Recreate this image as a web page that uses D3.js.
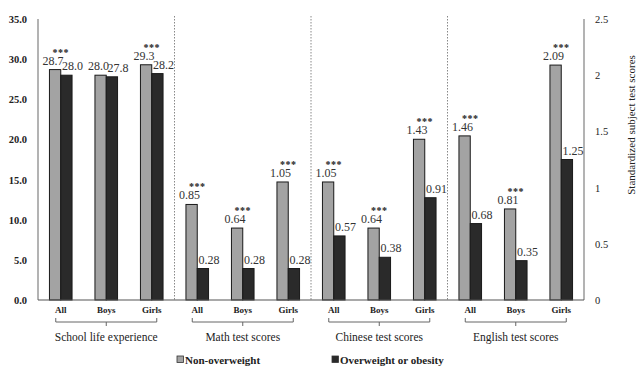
<!DOCTYPE html>
<html>
<head>
<meta charset="utf-8">
<script src="https://cdn.jsdelivr.net/npm/d3@7"></script>
<style>
  body { margin: 0; background: #fff; }
  text { font-family: "Liberation Serif", "DejaVu Serif", serif; }
</style>
</head>
<body>
<script>
// data
var groups = ["School life experience", "Math test scores", "Chinese test scores", "English test scores"];
var subgroups = ["All", "Boys", "Girls"];
var nonOverweight = [28.7, 28.0, 29.3, 0.85, 0.64, 1.05, 1.05, 0.64, 1.43, 1.46, 0.81, 2.09];
var overweight = [28.0, 27.8, 28.2, 0.28, 0.28, 0.28, 0.57, 0.38, 0.91, 0.68, 0.35, 1.25];
var stars = ["***", "", "***", "***", "***", "***", "***", "***", "***", "***", "***", "***"];
var leftTicks = [0, 5, 10, 15, 20, 25, 30, 35];
var rightTicks = [0, 0.5, 1, 1.5, 2, 2.5];
var seriesNames = ["Non-overweight", "Overweight or obesity"];
var seriesColors = ["#a3a3a3", "#2a2a2a"];

var W = 640, H = 371;
var plotL = 38, plotR = 584, plotT = 19, plotB = 300;

var svg = d3.select("body").append("svg").attr("width", W).attr("height", H);

var keys = d3.range(nonOverweight.length);
var x = d3.scaleBand().domain(keys).range([plotL, plotR]).padding(0);
var yL = d3.scaleLinear().domain([0, 35]).range([plotB, plotT]);
var yR = d3.scaleLinear().domain([0, 2.5]).range([plotB, plotT]);
function yOf(i) { return i < 3 ? yL : yR; }
function fmt(i) { return i < 3 ? d3.format(".1f") : d3.format(".2f"); }

var barW = 11.3;

// group separators
[3, 6, 9].forEach(function (i) {
  svg.append("line")
    .attr("x1", x(i)).attr("x2", x(i))
    .attr("y1", 16).attr("y2", plotB)
    .attr("stroke", "#888").attr("stroke-width", 1)
    .attr("stroke-dasharray", "1.5,1.5");
});

// axes lines
svg.append("line").attr("x1", plotL).attr("x2", plotL).attr("y1", plotT).attr("y2", plotB)
  .attr("stroke", "#9a9a9a").attr("stroke-width", 1.5);
svg.append("line").attr("x1", plotR).attr("x2", plotR).attr("y1", plotT).attr("y2", plotB)
  .attr("stroke", "#9a9a9a").attr("stroke-width", 1.5);

// left tick labels
svg.append("g").selectAll("text").data(leftTicks).enter().append("text")
  .attr("x", 27).attr("y", function (d) { return yL(d) + 4; })
  .attr("text-anchor", "end").attr("font-size", 10.5).attr("font-weight", "bold")
  .attr("fill", "#222")
  .text(d3.format(".1f"));

// right tick labels
svg.append("g").selectAll("text").data(rightTicks).enter().append("text")
  .attr("x", 595).attr("y", function (d) { return yR(d) + 4; })
  .attr("font-size", 10.5).attr("fill", "#222")
  .text(function (d) { return String(d); });

svg.append("text")
  .attr("transform", "translate(635,125) rotate(-90)")
  .attr("text-anchor", "middle").attr("font-size", 11).attr("fill", "#222")
  .text("Standardized subject test scores");

// bars
var bars = svg.append("g");
keys.forEach(function (i) {
  var cx = x(i) + x.bandwidth() / 2;
  var y = yOf(i);
  var vals = [nonOverweight[i], overweight[i]];
  vals.forEach(function (v, s) {
    var bx = s === 0 ? cx - barW : cx;
    bars.append("rect")
      .attr("x", bx).attr("y", y(v))
      .attr("width", barW).attr("height", plotB - y(v))
      .attr("fill", seriesColors[s]).attr("stroke", "#1a1a1a").attr("stroke-width", 1);
    bars.append("text")
      .attr("x", s === 0 ? bx + barW / 2 - 2 : bx + barW / 2 + 6)
      .attr("y", y(v) - 5)
      .attr("text-anchor", "middle").attr("font-size", 12).attr("fill", "#333")
      .text(fmt(i)(v));
  });
  if (stars[i]) {
    bars.append("text")
      .attr("x", cx).attr("y", y(nonOverweight[i]) - 14)
      .attr("text-anchor", "middle").attr("font-size", 10).attr("font-weight", "bold")
      .attr("letter-spacing", 0.5)
      .attr("fill", "#222")
      .text(stars[i]);
  }
  // subgroup labels
  svg.append("text")
    .attr("x", cx).attr("y", 313)
    .attr("text-anchor", "middle").attr("font-size", 9).attr("font-weight", "bold")
    .attr("fill", "#222")
    .text(subgroups[i % 3]);
});

// baseline
svg.append("line").attr("x1", plotL).attr("x2", plotR).attr("y1", plotB).attr("y2", plotB)
  .attr("stroke", "#555").attr("stroke-width", 1.2);

// braces + group labels
groups.forEach(function (g, k) {
  var x1 = x(k * 3) + x.bandwidth() / 2 - 5;
  var x2 = x(k * 3 + 2) + x.bandwidth() / 2 + 5;
  var mid = (x1 + x2) / 2;
  var by = 322;
  svg.append("path")
    .attr("d", "M" + x1 + "," + (by - 4) + "V" + by + "H" + x2 + "V" + (by - 4) +
      "M" + mid + "," + by + "V" + (by + 4))
    .attr("fill", "none").attr("stroke", "#666").attr("stroke-width", 1);
  svg.append("text")
    .attr("x", mid).attr("y", 341)
    .attr("text-anchor", "middle").attr("font-size", 11.5).attr("fill", "#222")
    .text(g);
});

// legend
var legendX = [177, 332];
seriesNames.forEach(function (n, s) {
  svg.append("rect")
    .attr("x", legendX[s]).attr("y", 356).attr("width", 6.5).attr("height", 6.5)
    .attr("fill", seriesColors[s]).attr("stroke", "#333").attr("stroke-width", 0.8);
  svg.append("text")
    .attr("x", legendX[s] + 8).attr("y", 364)
    .attr("font-size", 11).attr("font-weight", "bold").attr("fill", "#222")
    .text(n);
});
</script>
</body>
</html>
